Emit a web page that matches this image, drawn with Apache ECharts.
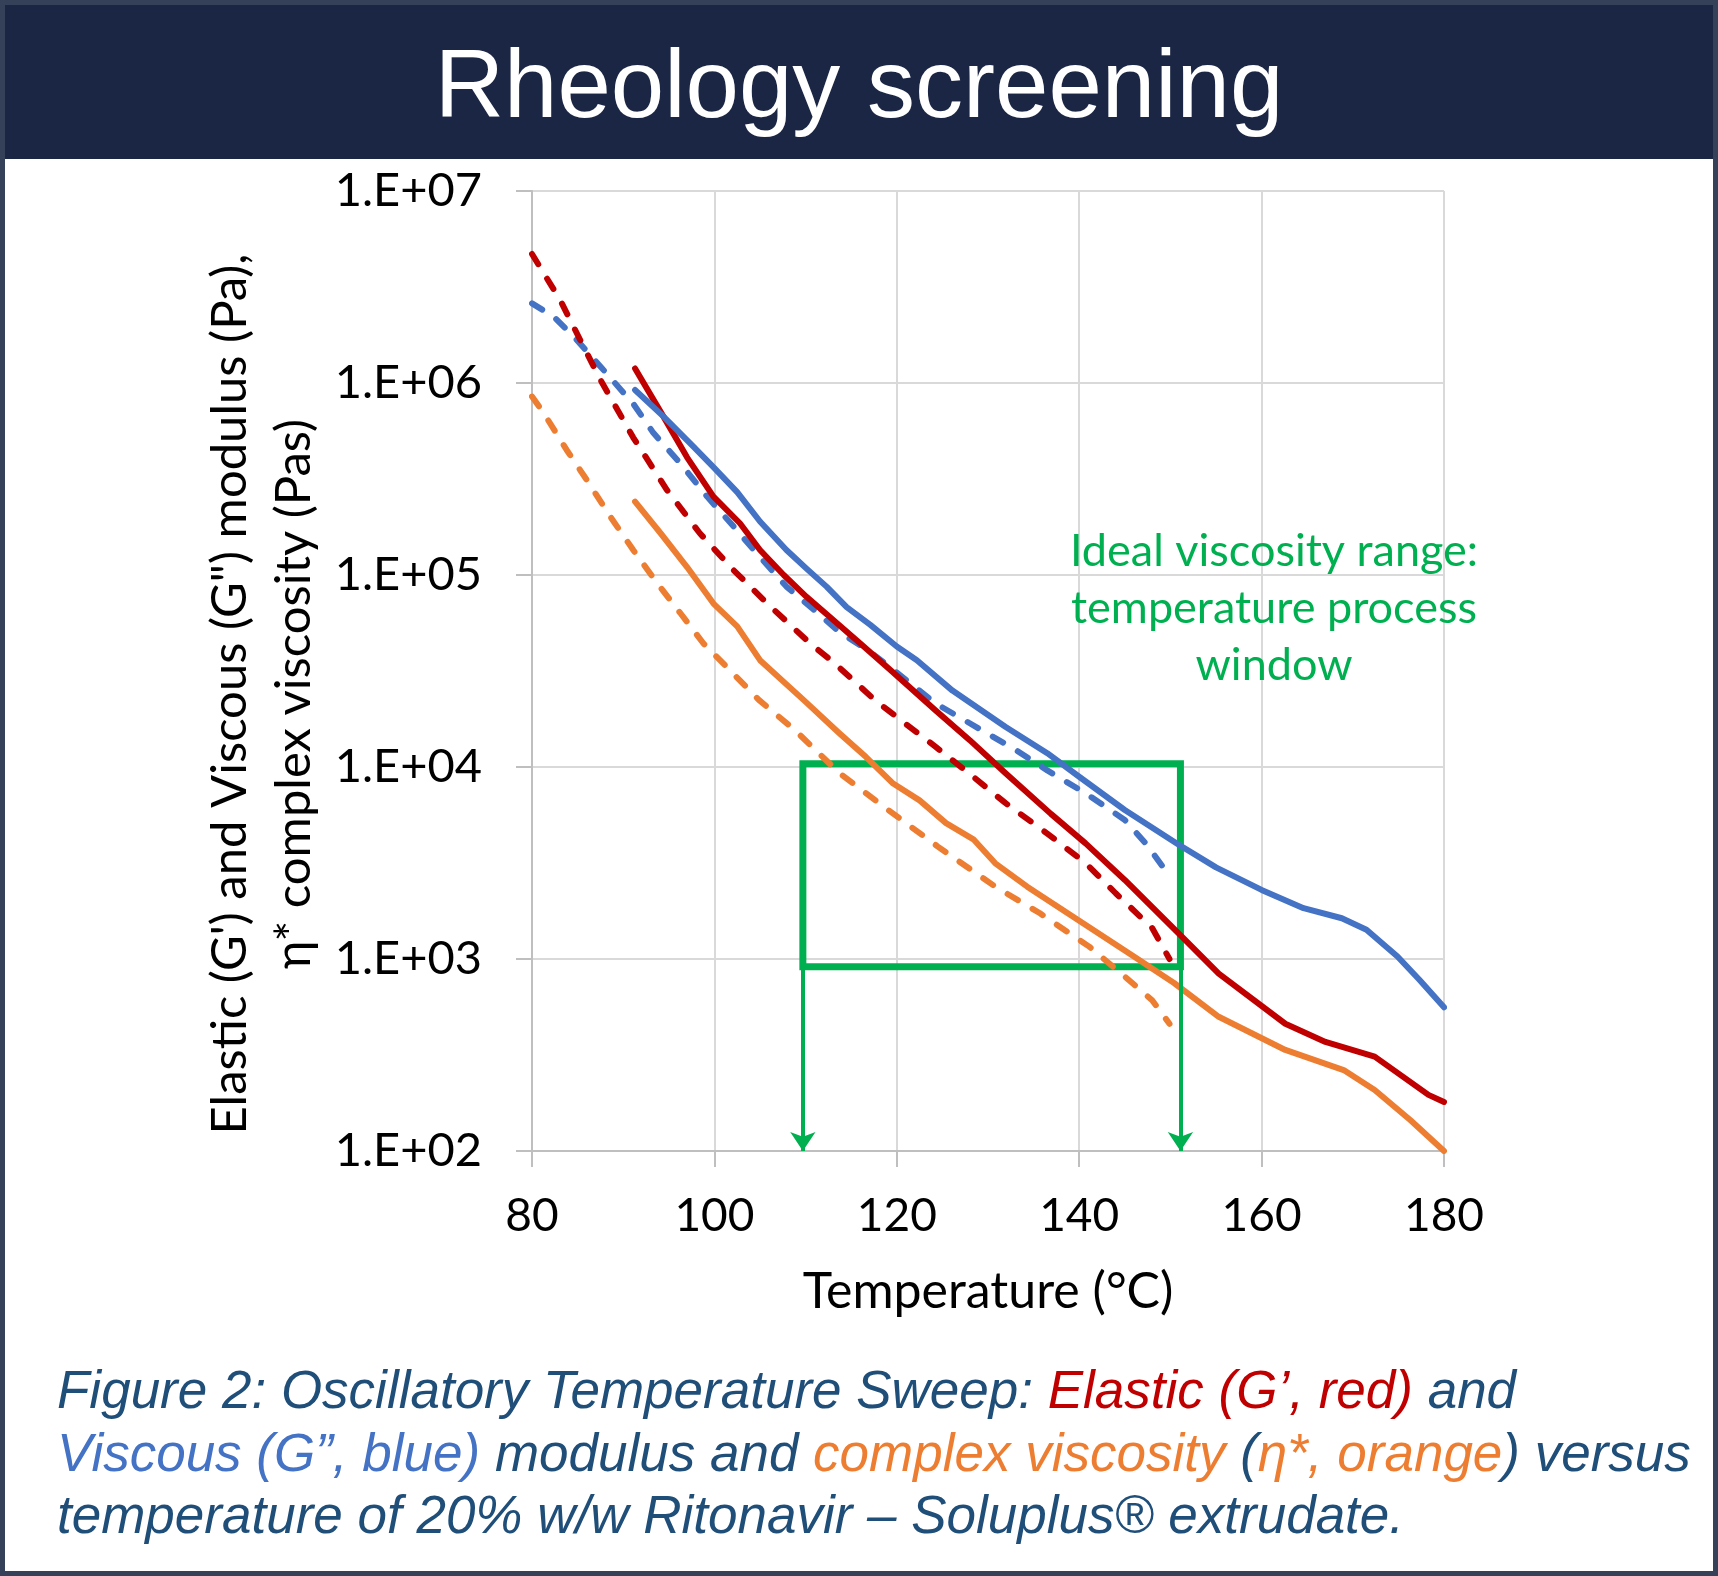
<!DOCTYPE html>
<html><head><meta charset="utf-8">
<script src="https://cdn.jsdelivr.net/npm/echarts@6/dist/echarts.min.js"></script>
<style>html,body{margin:0;padding:0;background:#fff}#c{width:1718px;height:1576px}</style>
</head><body><div id="c"></div>
<script>
// ---- data (temperature in °C, modulus in Pa / viscosity in Pa·s) ----
const yTickLabels = ['1.E+02','1.E+03','1.E+04','1.E+05','1.E+06','1.E+07'];
const xTicks = [80, 100, 120, 140, 160, 180];

// G' elastic, solid (from 91 °C)
const elasticSolidT = [91.3,94.4,97,99.9,102.8,105,107.6,110.1,113.1,116,119.3,124.2,128,131.9,136.9,140.7,145,150.9,155.3,162.6,167,172.4,178.3,180];
const elasticSolidV = [1.19e6,6.7e5,4.1e5,2.56e5,1.86e5,1.35e5,1.0e5,7.7e4,5.8e4,4.4e4,3.2e4,1.98e4,1.38e4,9.3e3,5.7e3,4.0e3,2.58e3,1.36e3,8.4e2,4.6e2,3.7e2,3.1e2,1.96e2,1.8e2];
// G' elastic, dashed (from 80 °C)
const elasticDashT = [80,83.1,85.3,87.5,91.1,94.8,98.4,102.1,105.8,110.5,113.1,117.6,120.4,124.2,128,131.9,136.5,140.7,144,148,149.9];
const elasticDashV = [4.7e6,2.7e6,1.67e6,1.04e6,5.2e5,2.77e5,1.65e5,1.06e5,7.1e4,4.4e4,3.5e4,2.23e4,1.76e4,1.28e4,9.2e3,6.5e3,4.5e3,3.16e3,2.2e3,1.45e3,1.0e3];
// G'' viscous, solid
const viscousSolidT = [91.3,94.4,97.7,100,102.5,105,107.9,110.1,112.3,114.5,117.1,120,122.2,126.1,131.9,136.5,140,145,150.7,155,160,164.6,168.8,171.5,174.9,177.3,180];
const viscousSolidV = [9.2e5,6.7e5,4.66e5,3.6e5,2.7e5,1.9e5,1.35e5,1.08e5,8.7e4,6.8e4,5.5e4,4.24e4,3.6e4,2.5e4,1.62e4,1.18e4,8.9e3,5.97e3,4.0e3,3.0e3,2.29e3,1.84e3,1.63e3,1.42e3,1.03e3,7.8e2,5.6e2];
// G'' viscous, dashed
const viscousDashT = [80,82.4,84.6,87.5,91.1,93.3,96.3,99.2,102.1,105,107.9,110.9,113.8,116.7,119.3,124.2,128,133,136.5,140.7,145,147.3,149.8];
const viscousDashV = [2.6e6,2.21e6,1.74e6,1.22e6,7.8e5,5.5e5,3.8e5,2.56e5,1.79e5,1.24e5,8.7e4,6.6e4,5.0e4,4.1e4,3.3e4,2.15e4,1.69e4,1.23e4,9.6e3,7.3e3,5.3e3,4.0e3,2.75e3];
// eta* complex viscosity, solid
const etaSolidT = [91.3,94.1,97,99.9,102.5,105,109.8,113.7,116.6,119.6,122.5,125.4,128.4,130.8,134.3,138.2,142.1,146,150.4,155.3,162.6,169,172.4,176.3,180];
const etaSolidV = [2.41e5,1.65e5,1.1e5,7.1e4,5.4e4,3.6e4,2.23e4,1.5e4,1.13e4,8.2e3,6.7e3,5.1e3,4.2e3,3.15e3,2.38e3,1.8e3,1.36e3,1.03e3,7.5e2,5.0e2,3.36e2,2.64e2,2.08e2,1.45e2,1.0e2];
// eta* complex viscosity, dashed
const etaDashT = [80,81.3,83.8,86,88.6,91.1,93.7,96.3,98.8,101.4,104.9,108.8,113.7,118.6,124.5,130.8,135.7,141.1,145,148,149.9];
const etaDashV = [8.5e5,6.95e5,4.48e5,3.13e5,2.01e5,1.35e5,9.1e4,6.3e4,4.4e4,3.3e4,2.23e4,1.56e4,9.3e3,6.2e3,3.85e3,2.38e3,1.73e3,1.16e3,8.1e2,6.1e2,4.6e2];

// ideal processing window
const windowT = [109.7, 151.1];
const windowEta = [1.04e4, 910];

const RED = '#C00000', BLUE = '#4472C4', ORANGE = '#ED7D31', GREEN = '#00B050', NAVY = '#1F4E79';
const CAL = 'Lato', ARIAL = 'Liberation Sans';

function pts(t, v) { return t.map((x, i) => [x, v[i]]); }
function line(name, t, v, color, dashed, z) {
  return {
    name, type: 'line', data: pts(t, v), symbol: 'none', z: z,
    lineStyle: { color, width: 6, type: dashed ? [12, 17] : 'solid', cap: 'round', join: 'round' },
    silent: true
  };
}

const chart = echarts.init(document.getElementById('c'), null, { renderer: 'canvas' });
const CF = 53;
const rs = c => ({ fontFamily: ARIAL, fontStyle: 'italic', fontSize: CF, fill: c });
const rich = { b: rs(NAVY), r: rs(RED), u: rs(BLUE), o: rs(ORANGE) };

chart.setOption({
  animation: false,
  backgroundColor: '#ffffff',
  grid: { left: 532, right: 274, top: 191, bottom: 425, containLabel: false },
  xAxis: {
    type: 'value', min: 80, max: 180, interval: 20,
    name: 'Temperature (°C)', nameLocation: 'middle', nameGap: 116,
    nameTextStyle: { fontFamily: CAL, fontSize: 50, color: '#000' },
    axisLine: { show: true, onZero: false, lineStyle: { color: '#BFBFBF', width: 2 } },
    axisTick: { show: true, length: 16, lineStyle: { color: '#BFBFBF', width: 2 } },
    axisLabel: { margin: 42, fontFamily: CAL, fontSize: 46, color: '#000' },
    splitLine: { show: true, lineStyle: { color: '#D9D9D9', width: 2 } }
  },
  yAxis: {
    type: 'log', logBase: 10, min: 100, max: 1e7,
    axisLine: { show: true, lineStyle: { color: '#BFBFBF', width: 2 } },
    axisTick: { show: true, length: 16, lineStyle: { color: '#BFBFBF', width: 2 } },
    axisLabel: {
      margin: 50, fontFamily: CAL, fontSize: 47, color: '#000',
      formatter: v => yTickLabels[Math.round(Math.log10(v)) - 2]
    },
    splitLine: { show: true, lineStyle: { color: '#D9D9D9', width: 2 } },
    minorTick: { show: false }
  },
  series: [
    line("η* (dashed)", etaDashT, etaDashV, ORANGE, true, 2),
    line("G'' (dashed)", viscousDashT, viscousDashV, BLUE, true, 2),
    line("G' (dashed)", elasticDashT, elasticDashV, RED, true, 2),
    line("η*", etaSolidT, etaSolidV, ORANGE, false, 3),
    line("G'", elasticSolidT, elasticSolidV, RED, false, 3),
    line("G''", viscousSolidT, viscousSolidV, BLUE, false, 3),
    {
      name: 'window', type: 'line', data: [], z: 10, silent: true,
      markArea: {
        silent: true,
        itemStyle: { color: 'rgba(0,0,0,0)', borderColor: GREEN, borderWidth: 7 },
        label: { show: false },
        data: [[{ coord: [windowT[0], windowEta[0]] }, { coord: [windowT[1], windowEta[1]] }]]
      },
      markLine: {
        silent: true, symbol: ['none', 'arrow'], symbolSize: [19, 19],
        label: { show: false },
        lineStyle: { color: GREEN, width: 4, type: 'solid' },
        data: [
          [{ coord: [windowT[0], windowEta[1]] }, { coord: [windowT[0], 100] }],
          [{ coord: [windowT[1], windowEta[1]] }, { coord: [windowT[1], 100] }]
        ]
      }
    }
  ],
  graphic: [
    { type: 'rect', shape: { x: 0, y: 0, width: 1718, height: 159 }, style: { fill: '#1B2644' }, z: 100 },
    { type: 'rect', shape: { x: 2.5, y: 2.5, width: 1713, height: 1571 }, style: { fill: null, stroke: '#344158', lineWidth: 5 }, z: 101 },
    { type: 'text', x: 859, y: 91, z: 102,
      style: { text: 'Rheology screening', fill: '#ffffff', fontFamily: ARIAL, fontSize: 96, align: 'center', verticalAlign: 'middle' } },
    { type: 'text', x: 262, y: 694, rotation: Math.PI / 2, z: 50,
      style: { text: "Elastic (G') and Viscous (G\") modulus (Pa),\nη* complex viscosity (Pas)", fill: '#000', fontFamily: CAL, fontSize: 49, lineHeight: 64, align: 'center', verticalAlign: 'middle' } },
    { type: 'text', x: 1274, y: 608, z: 50,
      style: { text: 'Ideal viscosity range:\ntemperature process\nwindow', fill: GREEN, fontFamily: CAL, fontSize: 45, lineHeight: 57, align: 'center', verticalAlign: 'middle' } },
    { type: 'text', x: 57, y: 1393, z: 50,
      style: { text: '{b|Figure 2: Oscillatory Temperature Sweep: }{r|Elastic (G’, red)}{b| and}', rich, verticalAlign: 'middle', align: 'left' } },
    { type: 'text', x: 57, y: 1456, z: 50,
      style: { text: '{u|Viscous (G”, blue)}{b| modulus and }{o|complex viscosity}{b| (}{o|η*, orange}{b|) versus}', rich, verticalAlign: 'middle', align: 'left' } },
    { type: 'text', x: 57, y: 1518, z: 50,
      style: { text: '{b|temperature of 20% w/w Ritonavir – Soluplus® extrudate.}', rich, verticalAlign: 'middle', align: 'left' } }
  ]
});
</script></body></html>
